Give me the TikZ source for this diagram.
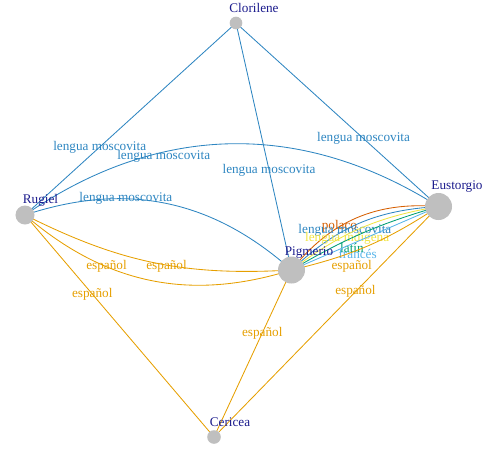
\documentclass[tikz,border=0pt]{standalone}
\usepackage{fontspec}
\setmainfont{Liberation Serif}
\usetikzlibrary{calc}
\definecolor{mosc}{HTML}{2E86C1}
\definecolor{espa}{HTML}{E69F00}
\definecolor{pola}{HTML}{D55E00}
\definecolor{indi}{HTML}{F0E442}
\definecolor{lati}{HTML}{009E73}
\definecolor{fran}{HTML}{56B4E9}
\definecolor{navyname}{HTML}{1A1A8C}

\begin{document}
\begin{tikzpicture}[x=0.025cm,y=0.025cm,line width=0.6pt,
	every node/.style={font=\fontsize{9.4}{11}\selectfont,inner sep=0pt},
	pers/.style={fill=black!25},
	who/.style={text=navyname}]
		
		\useasboundingbox (0,0) rectangle (490,450);
		
		\coordinate (clo) at (236,427);
		\coordinate (rug) at (25,235);
		\coordinate (pig) at (291.5,180);
		\coordinate (eus) at (438.5,243.5);
		\coordinate (cer) at (214,13);
		
		
		\draw[mosc] (clo) -- (rug) node[pos=0.646]{lengua moscovita};
		\draw[mosc] (clo) -- (pig) node[pos=0.595]{lengua moscovita};
		\draw[mosc] (clo) -- (eus) node[pos=0.63]{lengua moscovita};
		\draw[mosc] (rug) to[bend left=33.5] node[pos=0.34,yshift=-3pt]{lengua moscovita} (eus);
		\draw[mosc] (rug) to[bend left=30] node[pos=0.35]{lengua moscovita} (pig);
		
		\draw[espa] (rug) to[bend right=15] node[pos=0.55,yshift=-1pt]{español} (pig);
		\draw[espa] (rug) to[bend right=29] node[pos=0.33]{español} (pig);
		\draw[espa] (rug) -- (cer) node[pos=0.356]{español};
		\draw[espa] (pig) -- (cer) node[pos=0.377]{español};
		\draw[espa] (eus) -- (cer) node[pos=0.37]{español};
		
		
		\draw[pola] (pig) to[bend left=28] node[pos=0.38]{polaco} (eus);
		\draw[mosc] (pig) to[bend left=20] node[pos=0.4]{lengua moscovita} (eus);
		\draw[indi] (pig) to[bend left=13.5] node[pos=0.4,yshift=-3pt]{lengua indígena} (eus);
		\draw[lati] (pig) to[bend left=7] node[pos=0.42,yshift=-7pt]{latín} (eus);
		\draw[fran] (pig) -- (eus) node[pos=0.45,yshift=-9pt]{francés};
		\draw[espa] (pig) to[bend right=10] node[pos=0.38,yshift=-10pt]{español} (eus);
		
		
		\fill[pers] (clo) circle (0.158cm);
		\fill[pers] (rug) circle (0.2375cm);
		\fill[pers] (pig) circle (0.3375cm);
		\fill[pers] (eus) circle (0.3375cm);
		\fill[pers] (cer) circle (0.17cm);
		
		\node[who] (cloname) at (254,442) {Clorilene};
		\node[who] (rugname) at (40.5,250) {Rugiel};
		\node[who] (pigname) at (309,197) {Pigmerio};
		\node[who] (eusname) at (457,263) {Eustorgio};
		\node[who] (cername) at (230,28) {Cericea};
		
	\end{tikzpicture}
\end{document}
